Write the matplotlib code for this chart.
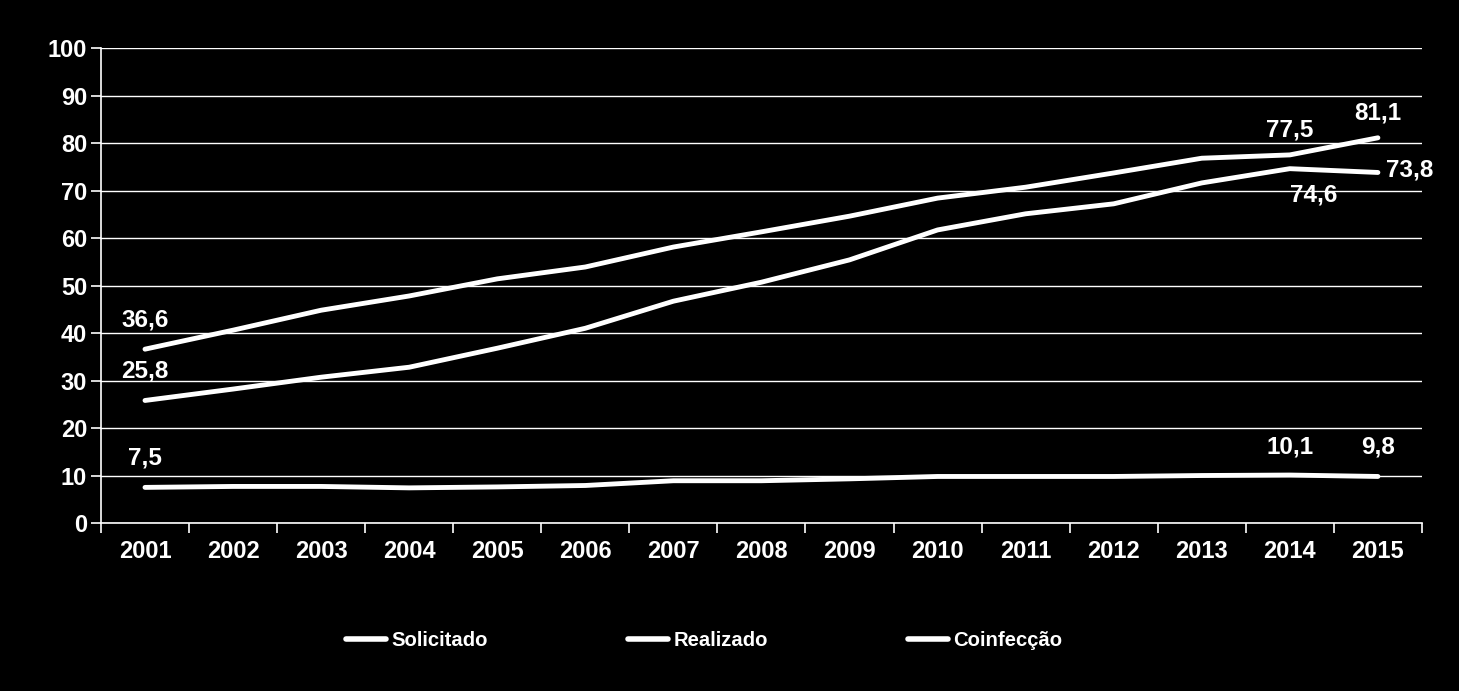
import matplotlib.pyplot as plt
import numpy as np

plt.rcParams['font.family'] = ['Liberation Sans', 'DejaVu Sans']
plt.rcParams['font.weight'] = 'bold'

# dados
anos = ['2001', '2002', '2003', '2004', '2005', '2006', '2007', '2008',
        '2009', '2010', '2011', '2012', '2013', '2014', '2015']
solicitado = [36.6, 40.6, 44.8, 47.8, 51.4, 53.9, 58.1, 61.3, 64.6, 68.4, 70.7, 73.7, 76.8, 77.5, 81.1]
realizado = [25.8, 28.2, 30.7, 32.8, 36.8, 41.0, 46.7, 50.7, 55.4, 61.7, 65.1, 67.2, 71.6, 74.6, 73.8]
coinfeccao = [7.5, 7.7, 7.7, 7.4, 7.6, 7.9, 8.9, 8.9, 9.3, 9.8, 9.8, 9.8, 10.0, 10.1, 9.8]

fig = plt.figure(figsize=(14.59, 6.91), dpi=100, facecolor='black')
ax = fig.add_axes([0.0692, 0.2431, 0.9054, 0.6874], facecolor='black')

x = np.arange(len(anos))
ax.plot(x, solicitado, color='white', lw=3.5, label='Solicitado', solid_capstyle='round')
ax.plot(x, realizado, color='white', lw=3.5, label='Realizado', solid_capstyle='round')
ax.plot(x, coinfeccao, color='white', lw=3.5, label='Coinfecção', solid_capstyle='round')

ax.set_xlim(-0.5, len(anos) - 0.5)
ax.set_ylim(0, 100)
ax.set_yticks(range(0, 101, 10))
ax.set_xticks(x)
ax.set_xticklabels(anos)
ax.set_xticks(np.arange(-0.5, len(anos), 1), minor=True)
ax.tick_params(axis='x', which='major', length=0, pad=12, colors='white', labelsize=17)
ax.tick_params(axis='x', which='minor', length=7, color='white', width=1.2)
ax.tick_params(axis='y', length=7, color='white', width=1.2, colors='white', labelsize=17, pad=3)
ax.yaxis.grid(True, color='white', lw=1)
ax.set_axisbelow(True)
for s in ['top', 'right']:
    ax.spines[s].set_visible(False)
for s in ['left', 'bottom']:
    ax.spines[s].set_color('white')
    ax.spines[s].set_linewidth(1.2)

def fmt(v):
    return f'{v:.1f}'.replace('.', ',')

# rótulos de dados
rot = [
    (solicitado, 0, (0, 21), 'center'),
    (realizado, 0, (0, 21), 'center'),
    (coinfeccao, 0, (0, 21), 'center'),
    (solicitado, 13, (0, 18), 'center'),
    (solicitado, 14, (0, 18), 'center'),
    (realizado, 13, (17, -19), 'center'),
    (realizado, 14, (6, 1.5), 'left'),
    (coinfeccao, 13, (0, 20), 'center'),
    (coinfeccao, 14, (0, 21), 'center'),
]
for serie, i, off, ha in rot:
    ax.annotate(fmt(serie[i]), (x[i], serie[i]), xytext=off, textcoords='offset points',
                ha=ha, va='center', color='white', fontsize=17.5, fontweight='bold')

leg = fig.legend(loc='center', bbox_to_anchor=(0.4825, 0.073), ncol=3, frameon=False,
                 handlelength=2.0, handletextpad=0.25, columnspacing=6.9,
                 prop={'size': 14.6, 'weight': 'bold'})
for t in leg.get_texts():
    t.set_color('white')
for h in leg.legend_handles:
    h.set_linewidth(4)

fig.savefig('out.png', dpi=100, facecolor='black')
